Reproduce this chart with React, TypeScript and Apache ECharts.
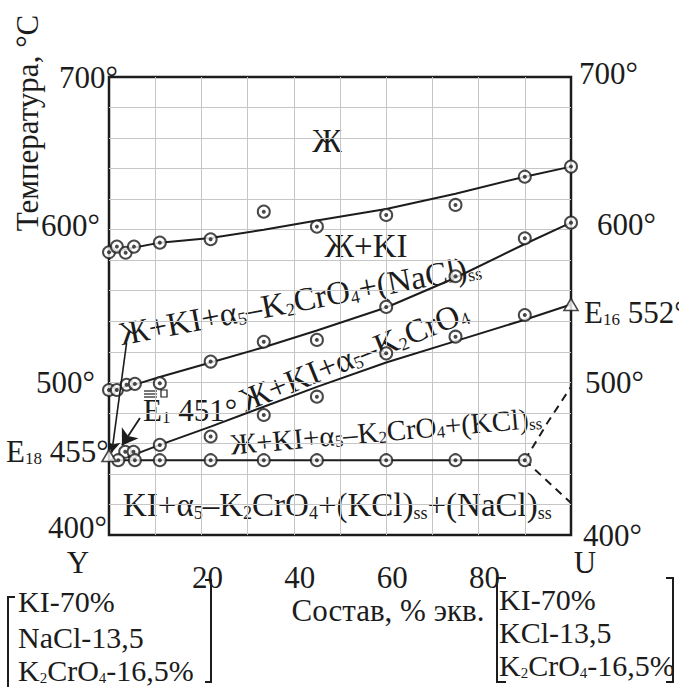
import React, { useEffect, useRef } from 'react';
import * as echarts from 'echarts';

const FONT = 'serif';
const INK = '#1c1c1c';
const GRIDC = '#c6c6c6';
const MAIN = 31;
const SUB = 17;

// composition (% equiv., Y -> U) and temperature (°C)
const liquidusLine = [[0, 585], [11, 591.5], [22, 594.5], [33.5, 600], [45, 606], [60, 613.5], [75, 623.5], [90, 634.7], [100, 641.3]];
const liquidusPts = [[0, 585.2], [1.7, 588.9], [3.6, 584.9], [5.4, 588.9], [11, 591.5], [22, 593.7], [33.5, 611.8], [45, 602], [60, 609.6], [75, 616.2], [90, 634.7], [100, 641.3]];
const naclLine = [[0, 495], [5.6, 498.5], [11, 503.5], [22, 513], [33.5, 523], [45, 534], [60, 549], [75, 568.5], [90, 590.6], [100, 604.6]];
const naclPts = [[0, 495], [1.7, 495], [3.8, 498.4], [5.6, 499], [11, 499.4], [22, 513.6], [33.5, 526.6], [45, 527.8], [60, 549.4], [75, 569.5], [90, 594.4], [100, 604.6]];
const kclLine = [[4, 451], [11, 459], [22, 471], [33.5, 484], [45, 497], [60, 513], [75, 527], [90, 541], [100, 551]];
const kclPts = [[3.5, 454.5], [5.3, 454.5], [11, 459], [22, 464.5], [33.5, 478.6], [45, 490.6], [60, 519], [75, 529.9], [90, 544.1]];
const solidusLine = [[0, 449], [90, 449]];
const solidusPts = [[2, 449], [5.6, 449], [11, 449], [22, 449], [33.5, 449], [45, 449], [60, 449], [75, 449], [90, 449]];
const dashUp = [[90, 449], [95, 474], [100, 497]];
const dashDown = [[90, 449], [100, 421]];
const eutectics = [[0, 452], [100, 551]]; // E18, E16
const arrowLong = [[[3.8, 525.7], [0.6, 454]]];
const arrowShort = [[[6.7, 476.6], [2.8, 458.7]]];
const xTickLabels = [20, 40, 60, 80];
const yTickLabels = [400, 500, 600, 700];

function mkRich(sub: number) {
  return { s: { fontSize: sub, fontFamily: FONT, fill: INK, lineHeight: 12, verticalAlign: 'bottom' } };
}

function txt(text: string, x: number, y: number, o: any = {}) {
  const el: any = {
    type: 'text',
    x,
    y,
    style: {
      text,
      fontSize: o.size ?? MAIN,
      fontFamily: FONT,
      fill: INK,
      align: o.align ?? 'center',
      verticalAlign: 'middle',
      rich: mkRich(o.sub ?? SUB),
    },
  };
  if (o.rot) el.rotation = (o.rot * Math.PI) / 180;
  return el;
}

function pl(points: number[][], w = 2) {
  return { type: 'polyline', shape: { points }, style: { stroke: INK, lineWidth: w, fill: 'none' } };
}

function ln(x1: number, y1: number, x2: number, y2: number, w = 1.2) {
  return { type: 'line', shape: { x1, y1, x2, y2 }, style: { stroke: INK, lineWidth: w } };
}

const allPts = [...liquidusPts, ...naclPts, ...kclPts, ...solidusPts];

const lbl = { fontSize: MAIN, fontFamily: FONT, color: INK };

const curve = (data: number[][], extra: any = {}) => ({
  type: 'line',
  data,
  showSymbol: false,
  symbol: 'none',
  smooth: false,
  z: 3,
  lineStyle: { color: INK, width: 2 },
  ...extra,
});

const option: any = {
  animation: false,
  backgroundColor: '#ffffff',
  grid: { left: 109, top: 77, width: 462, height: 458, show: true, borderColor: INK, borderWidth: 2.5, backgroundColor: 'transparent' },
  xAxis: {
    type: 'value',
    min: 0,
    max: 100,
    interval: 10,
    axisLine: { show: false },
    axisTick: { show: false },
    splitLine: { show: true, showMinLine: false, showMaxLine: false, lineStyle: { color: GRIDC, width: 1 } },
    axisLabel: {
      ...lbl,
      margin: 27,
      formatter: (v: number) => (xTickLabels.includes(v) ? `{x|${v}}` : ''),
      rich: { x: { ...lbl, padding: [0, 0, 0, 12] } },
    },
  },
  yAxis: [
    {
      type: 'value',
      min: 400,
      max: 700,
      interval: 20,
      position: 'left',
      axisLine: { show: false },
      axisTick: { show: false },
      splitLine: { show: true, showMinLine: false, showMaxLine: false, lineStyle: { color: GRIDC, width: 1 } },
      axisLabel: {
        ...lbl,
        margin: -9,
        formatter: (v: number) => (yTickLabels.includes(v) ? `{l${v}|${v}°}` : ''),
        rich: {
          l700: { ...lbl, padding: [0, 0, 0, 0] },
          l600: { ...lbl, padding: [0, 18, 8, 0] },
          l500: { ...lbl, padding: [0, 23, 0, 0] },
          l400: { ...lbl, padding: [0, 11, 16, 0] },
        },
      },
    },
    {
      type: 'value',
      min: 400,
      max: 700,
      interval: 20,
      position: 'right',
      axisLine: { show: false },
      axisTick: { show: false },
      splitLine: { show: false },
      axisLabel: {
        ...lbl,
        margin: 8,
        formatter: (v: number) => (yTickLabels.includes(v) ? `{r${v}|${v}°}` : ''),
        rich: {
          r700: { ...lbl, padding: [0, 0, 8, 0] },
          r600: { ...lbl, padding: [0, 0, 10, 18] },
          r500: { ...lbl, padding: [0, 0, 0, 6] },
          r400: { ...lbl, padding: [0, 0, 0, 4] },
        },
      },
    },
  ],
  series: [
    curve(liquidusLine),
    curve(naclLine),
    curve(kclLine),
    curve(solidusLine),
    curve(dashUp, { lineStyle: { color: INK, width: 2, type: [8, 6] } }),
    curve(dashDown, { lineStyle: { color: INK, width: 2, type: [8, 6] } }),
    {
      type: 'lines',
      coordinateSystem: 'cartesian2d',
      data: arrowLong.map((c) => ({ coords: c })),
      symbol: ['none', 'arrow'],
      symbolSize: 11,
      z: 7,
      lineStyle: { color: INK, width: 1.6, opacity: 1, curveness: 0 },
    },
    {
      type: 'lines',
      coordinateSystem: 'cartesian2d',
      data: arrowShort.map((c) => ({ coords: c })),
      symbol: ['none', 'arrow'],
      symbolSize: 15,
      z: 7,
      lineStyle: { color: INK, width: 1.8, opacity: 1, curveness: 0 },
    },
    {
      type: 'scatter',
      data: allPts,
      symbol: 'circle',
      symbolSize: 12,
      z: 5,
      itemStyle: { color: '#ffffff', borderColor: INK, borderWidth: 2 },
    },
    {
      type: 'scatter',
      data: allPts,
      symbol: 'circle',
      symbolSize: 4,
      z: 6,
      itemStyle: { color: INK },
    },
    {
      type: 'scatter',
      data: eutectics,
      symbol: 'triangle',
      symbolSize: [14, 12],
      z: 6,
      itemStyle: { color: '#ffffff', borderColor: INK, borderWidth: 1.6 },
    },
  ],
  graphic: [
    txt('Температура, °C', 27, 123, { rot: 90 }),
    txt('Ж', 327, 141, { size: 33 }),
    txt('Ж+KI', 366, 246, { size: 33 }),
    txt('Ж+KI+α{s|5}–K{s|2}CrO{s|4}+(NaCl){s|ss}', 300, 300, { rot: 10.8, size: 33, sub: 18 }),
    txt('Ж+KI+α{s|5}–K{s|2}CrO{s|4}', 354, 356, { rot: 22, size: 33, sub: 18 }),
    txt('Ж+KI+α{s|5}–K{s|2}CrO{s|4}+(KCl){s|ss}', 386, 431, { rot: 5, size: 29 }),
    txt('KI+α{s|5}–K{s|2}CrO{s|4}+(KCl){s|ss}+(NaCl){s|ss}', 123, 505, { align: 'left', size: 33, sub: 18 }),
    txt('E{s|18} 455°', 6, 451, { align: 'left' }),
    txt('E{s|1} 451°', 143, 410, { align: 'left' }),
    txt('E{s|16} 552°', 584, 312, { align: 'left' }),
    ln(144, 391, 157, 391),
    ln(144, 394, 157, 394),
    ln(144, 397, 157, 397),
    { type: 'rect', shape: { x: 161, y: 390, width: 6, height: 7 }, style: { stroke: INK, lineWidth: 1.2, fill: 'none' } },
    txt('Y', 78, 562),
    txt('U', 585, 562),
    txt('Состав, % экв.', 388, 610),
    txt('KI-70%', 18, 601, { align: 'left', size: 30, sub: 15 }),
    txt('NaCl-13,5', 18, 637, { align: 'left', size: 30, sub: 15 }),
    txt('K{s|2}CrO{s|4}-16,5%', 18, 670, { align: 'left', size: 30, sub: 15 }),
    txt('KI-70%', 499, 599, { align: 'left', size: 30, sub: 15 }),
    txt('KCl-13,5', 499, 632, { align: 'left', size: 30, sub: 15 }),
    txt('K{s|2}CrO{s|4}-16,5%', 499, 665, { align: 'left', size: 30, sub: 15 }),
    pl([[15, 597], [8, 597], [8, 687]]),
    pl([[205, 580], [211, 580], [211, 682], [205, 682]]),
    pl([[506, 578], [497, 578], [497, 682], [506, 682]]),
    pl([[666, 578], [673, 578], [673, 682], [666, 682]]),
  ],
};

export default function App() {
  const ref = useRef<HTMLDivElement>(null);
  useEffect(() => {
    const chart = echarts.init(ref.current as HTMLDivElement, null, { renderer: 'svg' });
    chart.setOption(option);
    return () => chart.dispose();
  }, []);
  return <div ref={ref} style={{ position: 'fixed', left: 0, top: 0, width: 679, height: 687 }} />;
}
